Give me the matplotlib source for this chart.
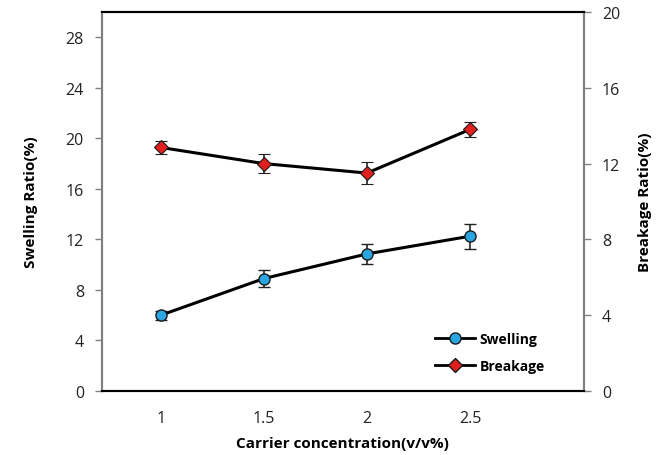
import numpy as np
import matplotlib
matplotlib.use('Agg')
from matplotlib import pyplot as plt
from matplotlib.lines import Line2D

plt.rcParams['font.family'] = ['Open Sans', 'DejaVu Sans']

concentration = [1, 1.5, 2, 2.5]
swelling = [6.0, 8.9, 10.85, 12.25]
swelling_err = [0.35, 0.65, 0.8, 1.0]
breakage = [12.85, 12.0, 11.5, 13.8]
breakage_err = [0.33, 0.48, 0.59, 0.38]

fig = plt.figure(figsize=(6.62, 4.56), dpi=100)
ax1 = fig.add_axes([0.154, 0.1404, 0.728, 0.8311])
ax2 = ax1.twinx()

ax1.errorbar(concentration, swelling, yerr=swelling_err, color='black', lw=2.2,
             marker='o', ms=8, mfc='#2aa7e0', mec='#1a1a1a', mew=1,
             ecolor='#222222', elinewidth=1.2, capsize=4, capthick=1.2, zorder=3)
ax2.errorbar(concentration, breakage, yerr=breakage_err, color='black', lw=2.2,
             marker='D', ms=7.5, mfc='#e0201f', mec='#1a1a1a', mew=0.8,
             ecolor='#222222', elinewidth=1.2, capsize=4, capthick=1.2, zorder=3)

ax1.set_xlim(0.714, 3.053)
ax1.set_ylim(0, 30)
ax2.set_ylim(0, 20)
ax1.set_xticks(concentration)
ax1.set_xticklabels(['1', '1.5', '2', '2.5'])
ax1.set_yticks(np.arange(0, 29, 4))
ax2.set_yticks(np.arange(0, 21, 4))

for ax in (ax1, ax2):
    for side in ('left', 'right'):
        ax.spines[side].set_color('#808080')
        ax.spines[side].set_linewidth(1.5)
    for side in ('top', 'bottom'):
        ax.spines[side].set_color('black')
        ax.spines[side].set_linewidth(1.5)
    ax.tick_params(axis='y', length=5, width=1, color='#808080', labelsize=11.5,
                   labelcolor='#222222')
ax1.tick_params(axis='x', length=0, labelsize=11.5, pad=14, labelcolor='#222222')
ax1.tick_params(axis='y', pad=8)
ax2.tick_params(axis='y', pad=8)

ax1.set_xlabel('Carrier concentration(v/v%)', fontsize=11, fontweight='bold', labelpad=7)
ax1.set_ylabel('Swelling Ratio(%)', fontsize=11, fontweight='bold', labelpad=20)
ax2.set_ylabel('Breakage Ratio(%)', fontsize=11, fontweight='bold', labelpad=13)

handles = [
    Line2D([], [], color='black', lw=2, marker='o', ms=8, mfc='#2aa7e0', mec='#1a1a1a'),
    Line2D([], [], color='black', lw=2, marker='D', ms=7, mfc='#e0201f', mec='#1a1a1a'),
]
leg = ax2.legend(handles, ['Swelling', 'Breakage'], loc='lower right',
                 bbox_to_anchor=(0.945, 0.015), frameon=False, handlelength=2.9,
                 handletextpad=0.3, labelspacing=0.95,
                 prop={'weight': 'bold', 'size': 10})

fig.savefig('out.png', dpi=100)
